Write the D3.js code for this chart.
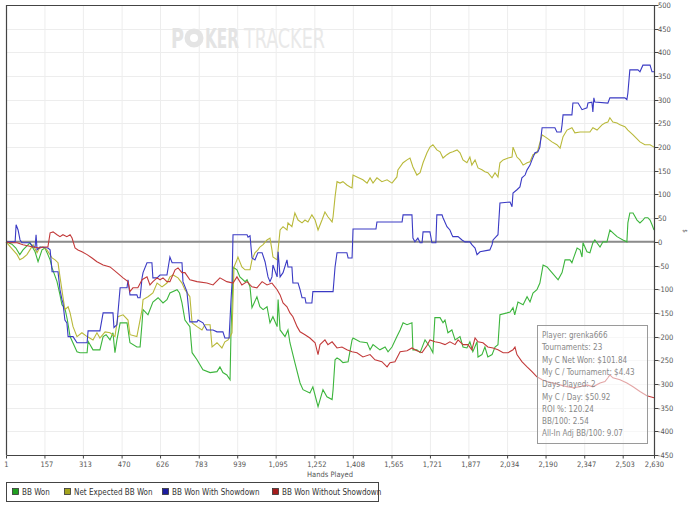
<!DOCTYPE html>
<html>
<head>
<meta charset="utf-8">
<script src="https://cdn.jsdelivr.net/npm/d3@7/dist/d3.min.js"></script>
<style>
  body { margin: 0; background: #fff; }
  svg { display: block; font-family: "DejaVu Sans Condensed", "DejaVu Sans", sans-serif; }
</style>
</head>
<body>
<div id="chart"></div>
<script>
// hands played, BB won
let bbWon = [[1,0],[25,-5],[41,-13],[57,-27],[70,-17],[98,-2],[119,-21],[131,-42],[147,-17],[159,-13],[171,-27],[180,-38],[188,-55],[208,-84],[220,-112],[228,-133],[240,-140],[250,-165],[261,-200],[289,-232],[301,-234],[330,-234],[334,-210],[354,-228],[382,-228],[395,-200],[407,-196],[423,-207],[435,-192],[443,-234],[451,-207],[464,-171],[492,-171],[504,-213],[532,-222],[545,-222],[553,-171],[557,-143],[577,-154],[597,-127],[618,-118],[638,-129],[654,-122],[666,-108],[695,-101],[705,-108],[715,-129],[727,-165],[747,-179],[756,-234],[776,-249],[800,-270],[829,-276],[857,-274],[869,-264],[881,-276],[897,-281],[910,-291],[914,-186],[920,-106],[922,-53],[938,-59],[950,-74],[971,-84],[979,-80],[991,-95],[999,-139],[1019,-116],[1031,-137],[1044,-143],[1060,-137],[1072,-171],[1084,-158],[1101,-179],[1105,-122],[1113,-186],[1133,-200],[1145,-186],[1153,-213],[1173,-255],[1194,-298],[1206,-312],[1234,-319],[1246,-306],[1267,-348],[1287,-312],[1303,-327],[1324,-333],[1328,-312],[1336,-249],[1344,-245],[1356,-249],[1368,-255],[1389,-253],[1405,-207],[1409,-203],[1437,-211],[1466,-213],[1478,-228],[1490,-217],[1518,-228],[1539,-222],[1551,-232],[1567,-222],[1587,-200],[1600,-186],[1612,-171],[1628,-175],[1648,-171],[1652,-228],[1668,-228],[1681,-234],[1701,-207],[1721,-222],[1733,-234],[1741,-160],[1762,-160],[1774,-171],[1782,-165],[1794,-192],[1810,-186],[1823,-207],[1843,-200],[1855,-222],[1871,-224],[1883,-211],[1895,-232],[1912,-211],[1916,-243],[1932,-238],[1944,-222],[1956,-243],[1973,-238],[1985,-222],[1997,-217],[2005,-154],[2034,-150],[2046,-148],[2058,-139],[2065,-154],[2078,-127],[2099,-133],[2115,-116],[2127,-127],[2139,-108],[2155,-101],[2167,-87],[2180,-49],[2196,-53],[2216,-65],[2241,-80],[2257,-65],[2269,-38],[2289,-38],[2297,-44],[2301,-38],[2318,-13],[2330,-17],[2338,-32],[2342,-2],[2358,-21],[2370,-23],[2382,-2],[2390,4],[2411,-11],[2423,0],[2439,0],[2451,25],[2480,11],[2504,4],[2520,0],[2524,40],[2532,61],[2545,61],[2561,46],[2573,40],[2585,46],[2593,51],[2605,51],[2614,46],[2622,36],[2630,25]];

let netExpected = [[1,0],[46,-27],[57,-38],[70,-34],[86,-27],[98,-17],[111,-6],[127,-23],[139,-11],[151,-11],[167,-17],[188,-34],[200,-38],[212,-44],[220,-74],[232,-116],[240,-143],[253,-137],[261,-150],[273,-179],[289,-200],[309,-192],[330,-200],[354,-207],[370,-192],[382,-203],[403,-190],[423,-192],[443,-200],[455,-158],[476,-154],[496,-165],[504,-196],[532,-200],[553,-143],[557,-122],[577,-116],[597,-108],[614,-87],[634,-95],[654,-87],[666,-74],[679,-70],[699,-76],[715,-87],[727,-101],[747,-116],[756,-171],[776,-179],[796,-186],[808,-175],[829,-175],[837,-222],[857,-213],[877,-224],[889,-211],[902,-207],[910,-200],[918,-192],[926,-53],[938,-38],[942,-32],[958,-53],[971,-59],[991,-59],[999,-38],[1011,-23],[1023,-17],[1031,-11],[1044,-6],[1060,4],[1072,8],[1080,-17],[1084,-32],[1101,-38],[1105,-17],[1113,25],[1125,32],[1141,25],[1145,40],[1161,32],[1173,61],[1186,46],[1202,40],[1214,46],[1226,42],[1242,57],[1255,46],[1267,25],[1283,46],[1295,63],[1307,53],[1324,42],[1328,53],[1336,95],[1344,127],[1356,124],[1368,127],[1384,120],[1397,116],[1405,114],[1409,141],[1425,137],[1449,131],[1466,124],[1478,135],[1490,124],[1506,135],[1526,127],[1547,131],[1567,124],[1587,137],[1591,152],[1612,167],[1628,173],[1640,177],[1652,158],[1668,141],[1681,146],[1693,167],[1709,188],[1721,200],[1733,205],[1749,194],[1762,190],[1774,177],[1790,184],[1802,188],[1814,190],[1831,194],[1843,188],[1855,173],[1871,167],[1883,179],[1891,162],[1904,173],[1916,156],[1932,152],[1944,148],[1956,146],[1973,135],[1985,146],[1997,137],[2005,167],[2018,173],[2038,177],[2054,179],[2058,200],[2074,179],[2086,173],[2099,162],[2115,167],[2127,169],[2139,184],[2155,188],[2159,194],[2176,226],[2196,219],[2216,211],[2236,205],[2249,198],[2261,222],[2277,236],[2297,241],[2309,230],[2330,232],[2370,232],[2382,241],[2399,236],[2419,247],[2431,251],[2443,253],[2451,262],[2463,253],[2480,251],[2492,247],[2512,243],[2524,236],[2545,226],[2573,211],[2593,205],[2614,205],[2630,200]];

let withShowdown = [[1,0],[38,0],[42,36],[50,25],[58,4],[66,-2],[98,-2],[111,-11],[119,-11],[123,15],[127,-17],[139,-11],[171,-13],[180,-17],[188,-63],[212,-63],[220,-101],[228,-122],[232,-129],[240,-165],[248,-171],[253,-200],[273,-200],[289,-213],[330,-213],[334,-188],[382,-188],[395,-150],[435,-150],[439,-181],[451,-175],[464,-97],[492,-97],[496,-80],[504,-112],[532,-112],[536,-118],[545,-118],[553,-76],[557,-65],[573,-44],[593,-44],[597,-76],[614,-76],[626,-70],[654,-70],[666,-32],[675,-44],[715,-44],[719,-84],[735,-105],[747,-169],[776,-169],[780,-165],[800,-171],[816,-186],[841,-186],[857,-190],[881,-190],[889,-203],[906,-203],[914,-122],[918,-87],[922,15],[979,15],[983,10],[991,13],[999,-34],[1011,-38],[1023,-23],[1040,-23],[1052,-42],[1064,-74],[1072,-84],[1080,-74],[1084,-49],[1101,-74],[1105,-21],[1113,-74],[1125,-65],[1141,-38],[1145,-53],[1161,-53],[1165,-87],[1186,-87],[1194,-101],[1202,-118],[1214,-118],[1218,-129],[1242,-129],[1246,-105],[1328,-105],[1336,-53],[1344,-23],[1384,-23],[1389,-34],[1405,-34],[1409,27],[1502,27],[1506,42],[1608,42],[1612,57],[1648,57],[1652,8],[1660,0],[1672,8],[1681,-2],[1689,-2],[1693,21],[1721,21],[1729,-2],[1745,-2],[1749,57],[1770,57],[1774,51],[1790,32],[1802,25],[1810,15],[1814,11],[1835,11],[1851,4],[1863,0],[1883,0],[1891,-6],[1904,-13],[1912,-27],[1924,-21],[1964,-17],[1973,-6],[1977,4],[1997,15],[2005,82],[2046,84],[2054,74],[2058,103],[2074,110],[2086,116],[2094,135],[2107,141],[2115,152],[2127,162],[2135,173],[2147,188],[2159,190],[2167,200],[2176,241],[2228,241],[2236,232],[2253,232],[2257,247],[2261,268],[2297,268],[2301,293],[2322,293],[2338,279],[2358,283],[2362,293],[2378,295],[2382,274],[2386,304],[2390,295],[2443,293],[2451,304],[2512,304],[2520,300],[2524,314],[2532,363],[2565,363],[2573,359],[2585,373],[2614,373],[2622,359],[2630,359]];

let withoutShowdown = [[1,0],[17,-2],[46,-2],[70,-6],[111,-11],[139,-13],[151,-11],[171,-11],[180,19],[192,21],[208,15],[220,11],[232,15],[248,11],[261,15],[269,8],[281,-13],[293,-17],[309,-21],[330,-27],[350,-34],[370,-42],[395,-49],[423,-53],[451,-65],[476,-76],[496,-84],[504,-105],[516,-97],[536,-97],[553,-80],[573,-74],[585,-91],[597,-84],[614,-76],[626,-80],[638,-76],[654,-84],[666,-84],[687,-59],[699,-55],[715,-65],[727,-65],[747,-80],[776,-84],[816,-87],[841,-91],[869,-76],[897,-84],[922,-87],[938,-74],[958,-91],[979,-84],[999,-95],[1019,-97],[1040,-84],[1060,-91],[1080,-87],[1101,-101],[1113,-112],[1125,-129],[1141,-137],[1153,-150],[1165,-158],[1182,-179],[1194,-190],[1214,-196],[1234,-203],[1255,-213],[1267,-238],[1275,-217],[1295,-207],[1307,-217],[1324,-211],[1344,-224],[1364,-222],[1384,-228],[1405,-232],[1425,-234],[1449,-243],[1478,-238],[1498,-249],[1526,-253],[1547,-264],[1559,-255],[1579,-253],[1600,-232],[1628,-230],[1648,-224],[1668,-230],[1689,-234],[1709,-219],[1721,-207],[1741,-211],[1762,-213],[1782,-217],[1802,-211],[1823,-217],[1835,-207],[1855,-217],[1875,-217],[1891,-228],[1904,-203],[1916,-211],[1936,-213],[1956,-222],[1977,-224],[1997,-228],[2018,-234],[2038,-234],[2058,-228],[2066,-222],[2074,-238],[2094,-253],[2115,-264],[2135,-274],[2155,-285],[2176,-291],[2196,-295],[2220,-298],[2249,-302],[2277,-306],[2301,-308],[2330,-306],[2358,-302],[2382,-306],[2411,-298],[2431,-295],[2443,-287],[2451,-281],[2463,-287],[2492,-291],[2520,-298],[2545,-306],[2573,-316],[2601,-325],[2630,-329]];

let seriesNames = ["BB Won", "Net Expected BB Won", "BB Won With Showdown", "BB Won Without Showdown"];
let seriesData = [bbWon, netExpected, withShowdown, withoutShowdown];
let lineColors = ["#3cb53c", "#b9b93a", "#3a3ac4", "#c23a3a"];
let swatchColors = ["#1f9f1f", "#a3a31c", "#1c1ca0", "#a51c1c"];

let xTicks = [1, 157, 313, 470, 626, 783, 939, 1095, 1252, 1408, 1565, 1721, 1877, 2034, 2190, 2347, 2503, 2630];
let yTicks = d3.range(-450, 501, 50);

let statLines = ["Player: grenka666", "Tournaments: 23", "My C Net Won: $101.84", "My C / Tournament: $4.43",
  "Days Played: 2", "My C / Day: $50.92", "ROI %: 120.24", "BB/100: 2.54", "All-In Adj BB/100: 9.07"];

let width = 700, height = 506;
let plotLeft = 6, plotRight = 654, plotTop = 5, plotBottom = 455;

let svg = d3.select("#chart").append("svg")
  .attr("width", width)
  .attr("height", height);

let x = d3.scaleLinear().domain([1, 2630]).range([plotLeft, plotRight]);
let y = d3.scaleLinear().domain([-450, 500]).range([plotBottom, plotTop]);

// grid
let grid = svg.append("g").attr("class", "grid");
grid.selectAll(".vg").data(xTicks).enter().append("line")
  .attr("x1", d => x(d) + 0.5).attr("x2", d => x(d) + 0.5)
  .attr("y1", plotTop).attr("y2", plotBottom)
  .attr("stroke", "#ededed");
grid.selectAll(".hg").data(yTicks).enter().append("line")
  .attr("x1", plotLeft).attr("x2", plotRight)
  .attr("y1", d => Math.round(y(d)) + 0.5).attr("y2", d => Math.round(y(d)) + 0.5)
  .attr("stroke", "#ededed");

// watermark: pieces squeezed to fit, the "O" is a chip
let wm = svg.append("g").attr("fill", "#e4e4e4");
function squeezed(txt, x0, w, bold, fill) {
  let t = wm.append("text")
    .attr("font-size", 27)
    .attr("font-weight", bold ? "bold" : "normal")
    .attr("fill", fill)
    .text(txt);
  let natural = t.node().getComputedTextLength();
  t.attr("transform", `translate(${x0},48) scale(${w / natural},1)`);
}
squeezed("P", 171, 13, true, "#e4e4e4");
squeezed("KER", 205, 34, true, "#e4e4e4");
squeezed("TRACKER", 244, 81, false, "#e9e9e9");
wm.append("circle").attr("cx", 194).attr("cy", 38).attr("r", 9.5);
wm.append("circle").attr("cx", 194).attr("cy", 38).attr("r", 4).attr("fill", "#fff");

// zero line
svg.append("line")
  .attr("x1", plotLeft).attr("x2", plotRight)
  .attr("y1", y(0)).attr("y2", y(0))
  .attr("stroke", "#8c8c8c").attr("stroke-width", 2);

// series
let line = d3.line().x(d => x(d[0])).y(d => y(d[1]));
let lines = svg.append("g").attr("fill", "none").attr("stroke-width", 1.1);
seriesData.forEach(function(s, i) {
  lines.append("path").datum(s)
    .attr("d", line)
    .attr("stroke", lineColors[i]);
});

// frame
svg.append("path")
  .attr("d", `M${plotLeft + 0.5},${plotBottom}V${plotTop + 0.5}H${plotRight + 0.5}V${plotBottom + 0.5}H${plotLeft + 0.5}`)
  .attr("fill", "none").attr("stroke", "#444").attr("stroke-width", 1.2);

// right axis
let yAxis = svg.append("g").attr("transform", `translate(${plotRight + 0.5},0)`);
yAxis.selectAll("line").data(yTicks).enter().append("line")
  .attr("x1", 0).attr("x2", 4)
  .attr("y1", d => Math.round(y(d)) + 0.5).attr("y2", d => Math.round(y(d)) + 0.5)
  .attr("stroke", "#444");
yAxis.selectAll("text").data(yTicks).enter().append("text")
  .attr("x", 3.5).attr("y", d => y(d) + 3)
  .attr("font-size", 7.5).attr("fill", "#555")
  .text(d => d);
svg.append("text")
  .attr("transform", "translate(683,231) rotate(90)")
  .attr("text-anchor", "middle")
  .attr("font-size", 6).attr("fill", "#555")
  .text("$");

// bottom axis
let xAxis = svg.append("g").attr("transform", `translate(0,${plotBottom + 0.5})`);
xAxis.selectAll("line").data(xTicks).enter().append("line")
  .attr("x1", d => x(d) + 0.5).attr("x2", d => x(d) + 0.5)
  .attr("y1", 0).attr("y2", 3)
  .attr("stroke", "#444");
xAxis.selectAll("text").data(xTicks).enter().append("text")
  .attr("x", (d, i) => x(d) + (i === 0 || i === xTicks.length - 1 ? 0.5 : 2.5))
  .attr("y", 11)
  .attr("text-anchor", "middle")
  .attr("font-size", 7.5).attr("fill", "#555")
  .text(d => d3.format(",")(d));
svg.append("text")
  .attr("x", 330).attr("y", 477)
  .attr("text-anchor", "middle")
  .attr("font-size", 7.5).attr("fill", "#555")
  .text("Hands Played");

// stats box
let stats = svg.append("g");
stats.append("rect")
  .attr("x", 537.5).attr("y", 325.5).attr("width", 110).attr("height", 118)
  .attr("fill", "#fff").attr("fill-opacity", 0.55)
  .attr("stroke", "#9a9a9a");
stats.selectAll("text").data(statLines).enter().append("text")
  .attr("x", 542).attr("y", (d, i) => 338 + i * 12.3)
  .attr("font-size", 8).attr("fill", "#888")
  .text(d => d);

// legend
let legend = svg.append("g");
legend.append("rect")
  .attr("x", 6.5).attr("y", 482.5).attr("width", 372).attr("height", 19)
  .attr("fill", "#fff").attr("stroke", "#444");
let legendX = [12, 64, 162, 272];
let items = legend.selectAll(".item").data(seriesNames).enter().append("g")
  .attr("transform", (d, i) => `translate(${legendX[i]},0)`);
items.append("rect")
  .attr("x", 0.5).attr("y", 488.5).attr("width", 6).attr("height", 6)
  .attr("fill", (d, i) => swatchColors[i]).attr("stroke", "#333").attr("stroke-width", 0.8);
items.append("text")
  .attr("x", 10).attr("y", 495)
  .attr("font-size", 8).attr("fill", "#333")
  .text(d => d);
</script>
</body>
</html>
